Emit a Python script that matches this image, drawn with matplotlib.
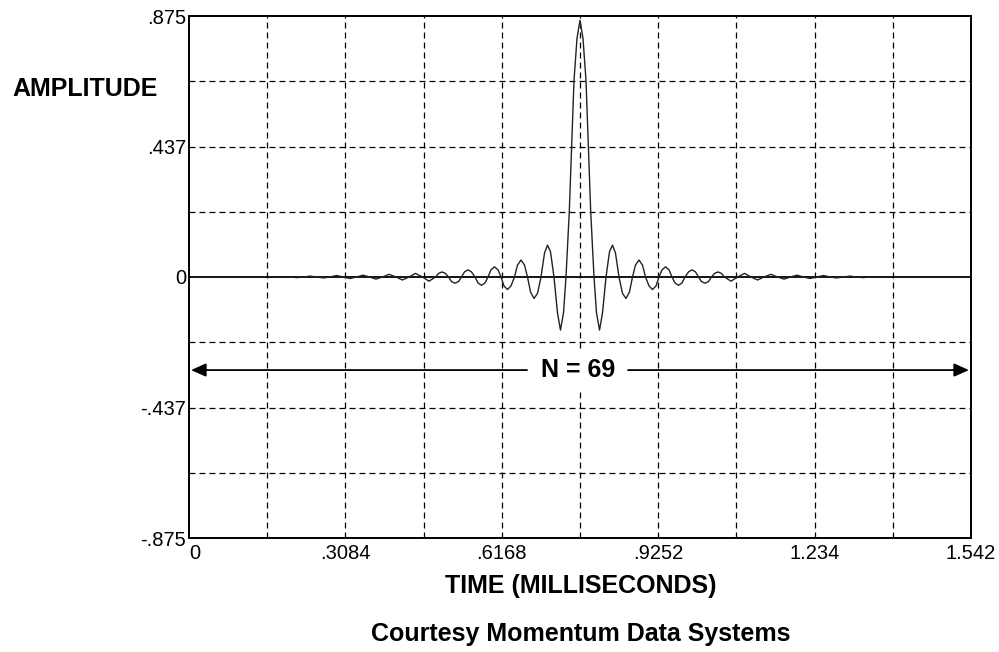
import matplotlib
matplotlib.use("Agg")
import matplotlib.pyplot as plt
from matplotlib.patches import FancyArrowPatch

plt.rcParams['lines.scale_dashes'] = False

# ---- data ----
time_ms = [
    0.1853, 0.2001, 0.2130, 0.2258, 0.2386, 0.2524, 0.2652, 0.2780, 0.2908, 0.3046,
    0.3175, 0.3303, 0.3431, 0.3559, 0.3687, 0.3816, 0.3944, 0.4082, 0.4210, 0.4338,
    0.4466, 0.4604, 0.4732, 0.4861, 0.4920, 0.4989, 0.5058, 0.5117, 0.5176, 0.5245,
    0.5314, 0.5373, 0.5432, 0.5501, 0.5570, 0.5640, 0.5699, 0.5768, 0.5837, 0.5896,
    0.5955, 0.6024, 0.6093, 0.6152, 0.6211, 0.6280, 0.6349, 0.6418, 0.6478, 0.6547,
    0.6616, 0.6675, 0.6734, 0.6803, 0.6872, 0.6941, 0.7010, 0.7069, 0.7128, 0.7197,
    0.7266, 0.7325, 0.7385, 0.7434, 0.7499, 0.7546, 0.7592, 0.7651,
    0.7710,
    0.7769, 0.7828, 0.7874, 0.7921, 0.7986, 0.8035, 0.8095, 0.8154, 0.8223, 0.8292,
    0.8351, 0.8410, 0.8479, 0.8548, 0.8617, 0.8686, 0.8745, 0.8804, 0.8873, 0.8942,
    0.9002, 0.9071, 0.9140, 0.9209, 0.9268, 0.9327, 0.9396, 0.9465, 0.9524, 0.9583,
    0.9652, 0.9721, 0.9780, 0.9850, 0.9919, 0.9988, 1.0047, 1.0106, 1.0175, 1.0244,
    1.0303, 1.0362, 1.0431, 1.0500, 1.0559, 1.0688, 1.0816, 1.0954, 1.1082, 1.1210,
    1.1338, 1.1476, 1.1604, 1.1733, 1.1861, 1.1989, 1.2117, 1.2245, 1.2374, 1.2512,
    1.2640, 1.2768, 1.2896, 1.3034, 1.3162, 1.3290, 1.3419, 1.3567,
]
amplitude = [
    0.0, 0.0, -0.002, 0.0, 0.003, 0.0, -0.003, 0.0, 0.005, 0.0,
    -0.005, 0.0, 0.006, 0.0, -0.007, 0.0, 0.009, 0.0, -0.010, 0.0,
    0.012, 0.0, -0.014, 0.0, 0.012, 0.017, 0.012, 0.0, -0.015, -0.021,
    -0.015, 0.0, 0.017, 0.024, 0.017, 0.0, -0.020, -0.028, -0.020, 0.0,
    0.024, 0.034, 0.024, 0.0, -0.030, -0.042, -0.030, 0.0, 0.040, 0.057,
    0.040, 0.0, -0.050, -0.072, -0.055, 0.0, 0.080, 0.107, 0.085, 0.0,
    -0.120, -0.178, -0.120, 0.0, 0.220, 0.440, 0.660, 0.800,
    0.861,
    0.800, 0.660, 0.440, 0.220, 0.0, -0.120, -0.178, -0.120, 0.0, 0.085,
    0.107, 0.080, 0.0, -0.055, -0.072, -0.050, 0.0, 0.040, 0.057, 0.040,
    0.0, -0.030, -0.042, -0.030, 0.0, 0.024, 0.034, 0.024, 0.0, -0.020,
    -0.028, -0.020, 0.0, 0.017, 0.024, 0.017, 0.0, -0.015, -0.021, -0.015,
    0.0, 0.012, 0.017, 0.012, 0.0, -0.014, 0.0, 0.012, 0.0, -0.010,
    0.0, 0.009, 0.0, -0.007, 0.0, 0.006, 0.0, -0.005, 0.0, 0.005,
    0.0, -0.003, 0.0, 0.003, 0.0, -0.002, 0.0, 0.0,
]

x_ticks = [0, 0.3084, 0.6168, 0.9252, 1.234, 1.542]
x_tick_labels = ["0", ".3084", ".6168", ".9252", "1.234", "1.542"]
y_ticks = [-0.875, -0.4375, 0, 0.4375, 0.875]
y_tick_labels = ["-.875", "-.437", "0", ".437", ".875"]
x_grid = [0.1542, 0.3084, 0.4626, 0.6168, 0.771, 0.9252, 1.0794, 1.2336, 1.3878]
y_grid = [-0.65625, -0.4375, -0.21875, 0.21875, 0.4375, 0.65625]
arrow_ends = [0.0, 1.542]
n_label = "N = 69"

# ---- figure ----
fig = plt.figure(figsize=(9.99, 6.52), dpi=100)
ax = fig.add_axes([189/999, 1 - 538/652, (971 - 189)/999, (538 - 16)/652])
ax.set_xlim(0, 1.542)
ax.set_ylim(-0.875, 0.875)

dash = (0, (4.3, 2.9))
for gx in x_grid:
    ax.axvline(gx, color='black', lw=0.9, ls=dash, zorder=1)
for gy in y_grid:
    ax.axhline(gy, color='black', lw=0.9, ls=dash, zorder=1)
ax.axhline(0, color='black', lw=1.3, zorder=2)

ax.plot(time_ms, amplitude, color='#222222', lw=1.0, zorder=3)

for s in ax.spines.values():
    s.set_linewidth(1.4)
    s.set_color('black')

tick_font = ['Liberation Sans', 'DejaVu Sans']
ax.set_xticks(x_ticks)
ax.set_xticklabels(x_tick_labels, family=tick_font, fontsize=14.5)
ax.set_yticks(y_ticks)
ax.set_yticklabels(y_tick_labels, family=tick_font, fontsize=14.5)
ax.tick_params(axis='both', length=0, pad=2)
ax.tick_params(axis='x', pad=4)
ax.get_xticklabels()[0].set_horizontalalignment('left')

# arrow with N label
ymid = -0.312
arr_l = FancyArrowPatch((0.6665, ymid), (arrow_ends[0] + 0.004, ymid),
                        arrowstyle='-|>,head_length=9,head_width=4',
                        color='black', lw=1.3, shrinkA=0, shrinkB=0, zorder=4)
arr_r = FancyArrowPatch((0.8657, ymid), (arrow_ends[1] - 0.004, ymid),
                        arrowstyle='-|>,head_length=9,head_width=4',
                        color='black', lw=1.3, shrinkA=0, shrinkB=0, zorder=4)
ax.add_patch(arr_l)
ax.add_patch(arr_r)
ax.text(0.7665, ymid, n_label, ha='center', va='center', fontsize=18,
        fontweight='bold', family='Liberation Sans', zorder=5,
        bbox=dict(boxstyle='square,pad=0.3', fc='white', ec='none'))

fig.text(85/999, 1 - 89/652, "AMPLITUDE", ha='center', va='center',
         fontsize=18, fontweight='bold', family='Liberation Sans')
fig.text(581/999, 1 - 586/652, "TIME (MILLISECONDS)", ha='center', va='center',
         fontsize=18, fontweight='bold', family='Liberation Sans')
fig.text(581/999, 1 - 634/652, "Courtesy Momentum Data Systems", ha='center',
         va='center', fontsize=18, fontweight='bold', family='Liberation Sans')

fig.savefig("out.png", dpi=100)
